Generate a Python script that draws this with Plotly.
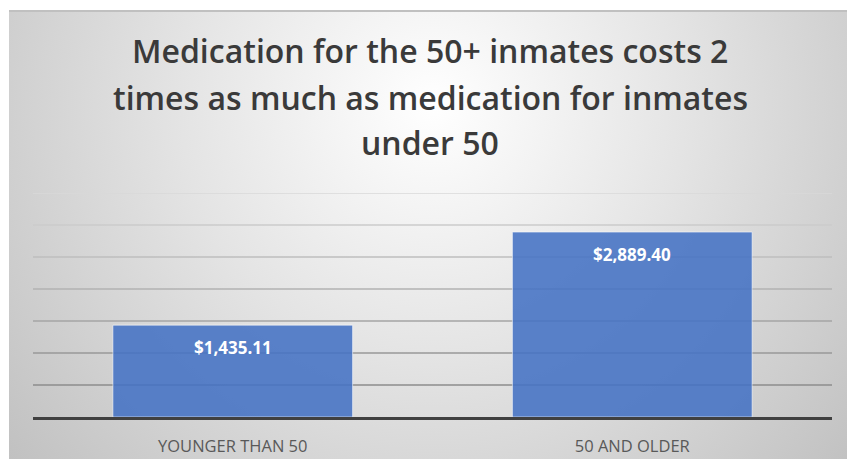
import base64
import plotly.graph_objects as go

categories = ["YOUNGER THAN 50", "50 AND OLDER"]
costs = [1435.11, 2889.40]
cost_labels = ["$1,435.11", "$2,889.40"]
grid_values = [500, 1000, 1500, 2000, 2500, 3000, 3500]
title_lines = [
    "Medication for the 50+ inmates costs 2",
    "times as much as medication for inmates",
    "under 50",
]

FONT = "Open Sans"
# the page body adds an 8px margin, so the figure is a bit smaller than the window
W, H = 847, 451
L, R, T, B = 25, 23, 185, 42
PW, PH = W - L - R, H - T - B


def px_x(p):
    return (p - L) / PW


def px_y(p):
    return (H - B - p) / PH


# radial grey background of the chart box
svg = """<svg xmlns='http://www.w3.org/2000/svg' width='860' height='460' viewBox='0 0 860 460' preserveAspectRatio='none'>
<defs><radialGradient id='g' gradientUnits='userSpaceOnUse' cx='424' cy='95' r='560'>
<stop offset='0' stop-color='#ffffff'/>
<stop offset='0.45' stop-color='#e4e4e4'/>
<stop offset='1' stop-color='#c0c0c0'/>
</radialGradient></defs>
<rect width='860' height='460' fill='url(#g)'/>
<rect width='860' height='2' fill='#c0c0c0'/>
</svg>"""
bg_src = "data:image/svg+xml;base64," + base64.b64encode(svg.encode()).decode()

fig = go.Figure()
fig.add_trace(go.Bar(
    x=categories,
    y=costs,
    width=0.6,
    marker=dict(color="rgba(68,114,196,0.88)",
                line=dict(color="rgba(255,255,255,0.55)", width=1)),
    hoverinfo="x+y",
))

# value labels inside the bars, near the top
for cat, val, lab in zip(categories, costs, cost_labels):
    fig.add_annotation(
        x=cat, y=val, text=f"<b>{lab}</b>", showarrow=False,
        yanchor="top", yshift=-9,
        font=dict(family=FONT, size=17, color="white"),
    )

# gridlines shade darker toward the bottom
for i, v in enumerate(grid_values):
    g = int(0x8c + (0xd8 - 0x8c) * i / (len(grid_values) - 1))
    fig.add_shape(
        type="line", xref="paper", x0=0, x1=1, yref="y", y0=v, y1=v,
        line=dict(color=f"rgb({g},{g},{g})", width=1.5), layer="below",
    )

# title, one annotation per line for Excel-like line spacing
for line, cy in zip(title_lines, [42, 89, 135]):
    fig.add_annotation(
        xref="paper", yref="paper", x=px_x(422), y=px_y(cy),
        text=line, showarrow=False, xanchor="center", yanchor="middle",
        font=dict(family=FONT, size=32, color="#3a3a3a", weight=600),
    )

fig.update_layout(
    width=W, height=H,
    margin=dict(l=L, r=R, t=T, b=B),
    paper_bgcolor="white",
    plot_bgcolor="rgba(0,0,0,0)",
    showlegend=False,
    images=[dict(
        source=bg_src, xref="paper", yref="paper",
        x=px_x(1), y=px_y(2), sizex=px_x(861) - px_x(1), sizey=px_y(2) - px_y(462),
        xanchor="left", yanchor="top", sizing="stretch", layer="below",
    )],
    xaxis=dict(
        showgrid=False, showline=True, linecolor="#404040", linewidth=3,
        ticks="", ticklabelstandoff=12, automargin=False,
        tickfont=dict(family=FONT, size=16.5, color="#595959"),
    ),
    yaxis=dict(
        range=[0, 3500], showgrid=False, showticklabels=False,
        zeroline=False, fixedrange=True, automargin=False,
    ),
)

fig.write_html("out.html")
